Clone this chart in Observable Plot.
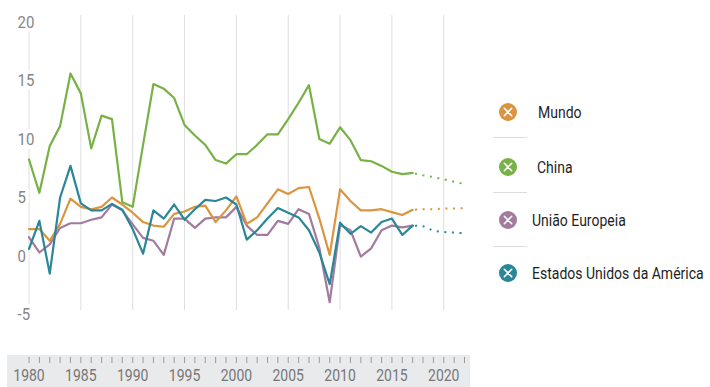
<!DOCTYPE html>
<html>
<head>
<meta charset="utf-8">
<script src="https://cdn.jsdelivr.net/npm/d3@7"></script>
<script src="https://cdn.jsdelivr.net/npm/@observablehq/plot@0.6"></script>
<style>
  html, body { margin: 0; padding: 0; background: #fff; }
  #wrap { position: relative; width: 710px; height: 387px; overflow: hidden; font-family: Roboto, sans-serif; }
  #band { position: absolute; left: 7px; top: 355px; width: 463px; height: 32px; background: #e9eaec; }
  #chart { position: absolute; left: 0; top: 0; }
  #legend { position: absolute; left: 0; top: 0; width: 710px; height: 387px; }
  .icon { position: absolute; }
  .label { position: absolute; font-size: 14px; color: #1f1f1f; line-height: 18px; white-space: nowrap;
           transform: scaleY(1.18); transform-origin: left center; }
  .sep { position: absolute; left: 493px; width: 34px; height: 1px; background: #dcdcdc; }
</style>
</head>
<body>
<div id="wrap">
  <div id="band"></div>
  <div id="chart"></div>
  <div id="legend"></div>
</div>
<script>
// Real GDP growth (%), 1980–2017, with projections to 2022
const years = d3.range(1980, 2018);
const projYears = [2017, 2018, 2019, 2020, 2021, 2022];

const seriesNames = ["Mundo", "China", "União Europeia", "Estados Unidos da América"];
const seriesColors = ["#db943f", "#78b145", "#a27b9f", "#2b8698"];

const mundo = [2.3, 2.3, 1.3, 2.75, 4.9, 4.2, 4.0, 4.2, 5.0, 4.4,
               3.7, 2.9, 2.6, 2.5, 3.6, 3.8, 4.2, 4.3, 2.9, 3.9,
               5.1, 2.75, 3.3, 4.5, 5.7, 5.3, 5.8, 5.9, 3.2, 0.1,
               5.7, 4.7, 3.9, 3.9, 4.0, 3.75, 3.5, 3.95];
const china = [8.25, 5.4, 9.4, 11.1, 15.6, 13.9, 9.2, 12.0, 11.7, 4.6,
               4.2, 9.5, 14.7, 14.3, 13.5, 11.2, 10.3, 9.5, 8.2, 7.9,
               8.7, 8.7, 9.5, 10.4, 10.4, 11.7, 13.1, 14.6, 10.0, 9.6,
               11.0, 9.9, 8.2, 8.1, 7.7, 7.2, 7.0, 7.1];
const ue    = [1.6, 0.3, 1.0, 2.4, 2.8, 2.8, 3.1, 3.3, 4.4, 3.9,
               2.7, 1.55, 1.3, 0.1, 3.2, 3.2, 2.4, 3.2, 3.3, 3.3,
               4.2, 2.6, 1.8, 1.8, 3.0, 2.75, 4.0, 3.6, 0.7, -3.95,
               2.65, 2.2, -0.05, 0.65, 2.2, 2.6, 2.45, 2.6];
const eua   = [0.6, 3.0, -1.5, 5.0, 7.7, 4.5, 3.9, 3.9, 4.45, 3.95,
               2.3, 0.2, 3.9, 3.2, 4.4, 3.1, 4.0, 4.8, 4.7, 5.0,
               4.4, 1.4, 2.2, 3.2, 4.1, 3.7, 3.3, 2.2, 0.3, -2.4,
               2.85, 1.9, 2.55, 2.0, 2.9, 3.2, 1.8, 2.6];

// Projections (dotted), starting from the last observed year
const mundoProj = [3.95, 4.0, 4.0, 4.05, 4.05, 4.1];
const chinaProj = [7.1, 6.9, 6.75, 6.55, 6.35, 6.15];
const euaProj   = [2.6, 2.55, 2.15, 2.05, 2.0, 1.95];

const yTicks = [20, 15, 10, 5, 0, -5];
const gridYears = [1980, 1985, 1990, 1995, 2000, 2005, 2010, 2015, 2020];
const tickYears = d3.range(1980, 2023);
const labelYears = [1980, 1985, 1990, 1995, 2000, 2005, 2010, 2015, 2020];

const observed = [mundo, china, ue, eua].flatMap((vals, i) =>
  vals.map((v, j) => ({year: years[j], value: v, name: seriesNames[i]})));
const projected = [[mundoProj, 0], [chinaProj, 1], [euaProj, 3]].flatMap(([vals, i]) =>
  vals.map((v, j) => ({year: projYears[j], value: v, name: seriesNames[i]})));

// Stacking order of the solid lines (last one on top)
const drawOrder = ["China", "União Europeia", "Mundo", "Estados Unidos da América"];

const chart = Plot.plot({
  width: 480,
  height: 387,
  marginLeft: 28.5,
  marginRight: 16,
  marginTop: 21.5,
  marginBottom: 30,
  x: {domain: [1980, 2022], axis: null, label: null},
  y: {domain: [-8.675, 20], axis: null, label: null},
  color: {domain: seriesNames, range: seriesColors},
  style: {background: "transparent", fontFamily: "Roboto, sans-serif", overflow: "visible"},
  marks: [
    Plot.ruleX(gridYears, {x: d => d, y1: 20.55, y2: -4.66, stroke: "#dedede", strokeWidth: 1}),
    Plot.text(yTicks, {
      x: 1980, y: d => d, text: d => String(d), dx: -11.5, textAnchor: "start",
      fill: "#858585", stroke: "white", strokeWidth: 7, fontSize: 15
    }),
    Plot.line(projected, {
      x: "year", y: "value", z: "name", stroke: "name",
      strokeWidth: 2, strokeDasharray: "2 5.6", strokeDashoffset: -2.4, strokeLinecap: "butt"
    }),
    ...drawOrder.map(n =>
      Plot.line(observed.filter(d => d.name === n), {
        x: "year", y: "value", stroke: "name", strokeWidth: 2.2
      })),
    Plot.axisX(tickYears, {tickSize: 6, tickFormat: () => "", stroke: "#9a9a9a", label: null}),
    Plot.axisX(labelYears, {
      tickSize: 0, tickPadding: 12.5, tickFormat: d => String(d),
      fontSize: 14, fill: "#777", label: null
    })
  ]
});

// Slightly taller glyphs for the tick labels
d3.select(chart).selectAll("text").each(function() {
  const t = this.getAttribute("transform");
  if (t) this.setAttribute("transform", t + " scale(1,1.15)");
});
document.getElementById("chart").append(chart);

// Legend on the right
const legendY = [112, 167, 220, 273];
const legendTextX = [538, 537, 532, 532];
const sepY = [137, 192, 246];
const legend = d3.select("#legend");
seriesNames.forEach((name, i) => {
  const icon = legend.append("svg").attr("class", "icon")
    .attr("width", 20).attr("height", 20)
    .style("left", "498px").style("top", (legendY[i] - 10) + "px");
  icon.append("circle").attr("cx", 10).attr("cy", 10).attr("r", 9).attr("fill", seriesColors[i]);
  icon.append("path").attr("d", "M6.3,6.3L13.7,13.7M13.7,6.3L6.3,13.7")
    .attr("stroke", "white").attr("stroke-width", 1.6).attr("stroke-linecap", "round");
  legend.append("div").attr("class", "label")
    .style("left", legendTextX[i] + "px").style("top", (legendY[i] - 9) + "px")
    .text(name);
});
sepY.forEach(y => legend.append("div").attr("class", "sep").style("top", y + "px"));
</script>
</body>
</html>
